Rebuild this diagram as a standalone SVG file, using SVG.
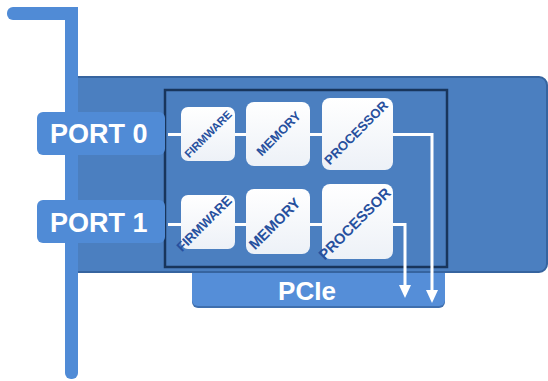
<svg xmlns="http://www.w3.org/2000/svg" width="548" height="381" viewBox="0 0 548 381">
<style>
.lbl{font-family:"Liberation Sans",Arial,sans-serif;font-weight:bold;fill:#ffffff}
.blk{font-family:"Liberation Sans",Arial,sans-serif;font-weight:bold;fill:#27509e;text-anchor:middle}
.box{fill:url(#boxg)}
.wire{fill:none;stroke:#ffffff;stroke-width:3}
.light{fill:#508bd6}
</style>
<defs>
<linearGradient id="boxg" x1="0" y1="0" x2="0" y2="1">
<stop offset="0" stop-color="#ffffff"/>
<stop offset="1" stop-color="#edf1f7"/>
</linearGradient>
<marker id="ah" markerUnits="userSpaceOnUse" markerWidth="14" markerHeight="14" refX="0" refY="6" orient="auto" viewBox="0 0 14 12">
<path d="M0,0 L13,6 L0,12 z" fill="#ffffff"/>
</marker>
</defs>
<g id="pcie">
<rect x="192" y="262" width="253" height="46" rx="6" fill="#3f6fae"/>
<rect x="192" y="262" width="253" height="44" rx="6" fill="#558ed8"/>
<text class="lbl" x="307" y="300" font-size="26" text-anchor="middle">PCIe</text>
</g>
<g id="card">
<rect x="70" y="77" width="477" height="195" rx="8" fill="#4b7fc0" stroke="#36649f" stroke-width="2"/>
<rect x="165" y="90" width="282" height="177" fill="none" stroke="#18355c" stroke-width="2.5"/>
</g>
<g id="bracket">
<rect class="light" x="65" y="7" width="13" height="372" rx="6"/>
<rect class="light" x="7" y="7" width="71" height="13" rx="6"/>
<rect class="light" x="65" y="7" width="13" height="20"/>
</g>
<g id="port0">
<rect class="light" x="37" y="112" width="128" height="43" rx="6"/>
<text class="lbl" x="50" y="143" font-size="27">PORT 0</text>
</g>
<g id="port1">
<rect class="light" x="37" y="200" width="128" height="43" rx="6"/>
<text class="lbl" x="50" y="232" font-size="27">PORT 1</text>
</g>
<g id="connectors">
<path class="wire" d="M168,134.5 H181 M235,134.5 H246 M310,134.5 H322"/>
<path class="wire" d="M393,134.5 H432 V290" marker-end="url(#ah)"/>
<path class="wire" d="M168,224.5 H181 M235,224.5 H246 M310,224.5 H322"/>
<path class="wire" d="M393,224.5 H405 V285" marker-end="url(#ah)"/>
</g>
<g id="firmware0">
<rect class="box" x="181" y="107" width="54" height="54" rx="7"/>
<text class="blk" x="208" y="134" dy="0.36em" font-size="11.3" transform="rotate(-45 208 134)">FIRMWARE</text>
</g>
<g id="memory0">
<rect class="box" x="246" y="102" width="64" height="64" rx="8"/>
<text class="blk" x="278.5" y="133.5" dy="0.36em" font-size="12.7" transform="rotate(-45 278.5 133.5)">MEMORY</text>
</g>
<g id="processor0">
<rect class="box" x="322" y="98" width="71" height="72" rx="8"/>
<text class="blk" x="356" y="132.5" dy="0.36em" font-size="13.1" transform="rotate(-45 356 132.5)">PROCESSOR</text>
</g>
<g id="firmware1">
<rect class="box" x="181" y="195" width="54" height="54" rx="7"/>
<text class="blk" x="204" y="223.5" dy="0.36em" font-size="13.2" transform="rotate(-45 204 223.5)">FIRMWARE</text>
</g>
<g id="memory1">
<rect class="box" x="246" y="189" width="64" height="65" rx="8"/>
<text class="blk" x="274.5" y="223.5" dy="0.36em" font-size="14.8" transform="rotate(-45 274.5 223.5)">MEMORY</text>
</g>
<g id="processor1">
<rect class="box" x="322" y="184" width="71" height="75" rx="8"/>
<text class="blk" x="354.5" y="223.5" dy="0.36em" font-size="14.8" transform="rotate(-45 354.5 223.5)">PROCESSOR</text>
</g>
</svg>
